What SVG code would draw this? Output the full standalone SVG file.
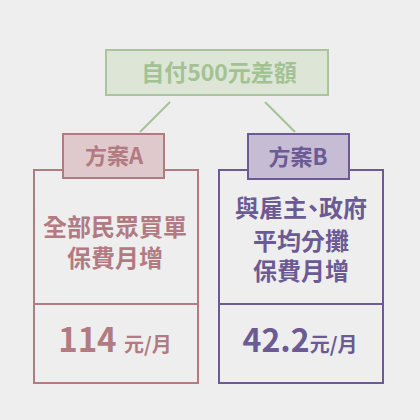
<svg xmlns="http://www.w3.org/2000/svg" width="420" height="420" viewBox="0 0 420 420">
<style>
text{font-family:"Noto Sans CJK TC","Noto Sans CJK SC",sans-serif;font-weight:bold;text-anchor:middle}
.a{fill:#b27a81}
.b{fill:#6b5a93}
.g{fill:#a3c294}
.sa{stroke:#b27a81;stroke-width:2;fill:none}
.sb{stroke:#6b5a93;stroke-width:2;fill:none}
.half{font-feature-settings:"halt"}
</style>
<rect width="420" height="420" fill="#eeeeee"/>
<g id="connectors" stroke="#a3c294" stroke-width="2">
<line x1="170" y1="102" x2="140" y2="132"/>
<line x1="265" y1="102" x2="295" y2="132"/>
</g>
<g id="top">
<rect x="106" y="50" width="222" height="45" fill="#dde6d6" stroke="#a9c59b" stroke-width="2"/>
<text x="219" y="81" class="g" font-size="23">自付500元差額</text>
</g>
<g id="planA">
<rect x="34" y="170" width="164" height="213" class="sa"/>
<line x1="34" y1="304" x2="198" y2="304" class="sa"/>
<rect x="63" y="134" width="101" height="44" fill="#e0c9cc" stroke="#b27a81" stroke-width="2"/>
<text x="114" y="164" class="a" font-size="22">方案A</text>
<text x="115" y="236" class="a" font-size="24">全部民眾買單</text>
<text x="115" y="267" class="a" font-size="24">保費月增</text>
<text x="115" y="352" class="a"><tspan font-size="33">114 </tspan><tspan font-size="20">元/月</tspan></text>
</g>
<g id="planB">
<rect x="219" y="170" width="164" height="213" class="sb"/>
<line x1="219" y1="304" x2="383" y2="304" class="sb"/>
<rect x="248" y="134" width="101" height="45" fill="#c6bcd4" stroke="#6b5a93" stroke-width="2"/>
<text x="298" y="165" class="b" font-size="22">方案B</text>
<text x="301" y="217" class="b half" font-size="24">與雇主、政府</text>
<text x="301" y="250" class="b" font-size="24">平均分攤</text>
<text x="301" y="280" class="b" font-size="24">保費月增</text>
<text x="300" y="352" class="b"><tspan font-size="32">42.2</tspan><tspan font-size="20">元/月</tspan></text>
</g>
</svg>
